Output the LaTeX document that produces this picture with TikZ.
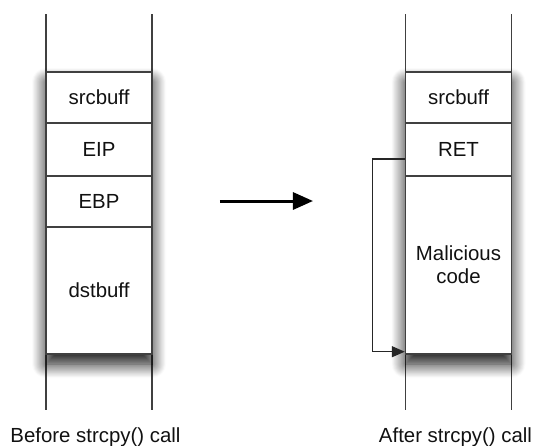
\documentclass[tikz,border=0pt]{standalone}
\usepackage{fontspec}
\setmainfont{Liberation Sans}
\usetikzlibrary{arrows.meta,shadows.blur}
\definecolor{linegray}{HTML}{404040}
\definecolor{txt}{HTML}{111111}
\begin{document}
\begin{tikzpicture}[x=0.5pt,y=-0.5pt,
  cell/.style={draw=linegray, line width=0.7pt, fill=white, minimum width=53pt, inner sep=0pt,
    font=\fontsize{10.2}{11.5}\selectfont, text=txt, align=center},
  rail/.style={draw=linegray, line width=0.8pt},
  stackshadow/.style={fill=white, blur shadow={shadow xshift=0pt, shadow yshift=-5pt,
    shadow blur radius=7pt, shadow blur steps=16, shadow opacity=95}},
  caption/.style={font=\fontsize{10.2}{11.5}\selectfont, text=txt},
  bigarrow/.style={draw=black, line width=1.5pt, -{Triangle[length=10pt,width=8.5pt]}},
  looparrow/.style={draw=black!85, line width=0.65pt, -{Triangle[length=6.5pt,width=5.5pt]}}]
\useasboundingbox (0,0) rectangle (538,446);
% rails
\coordinate (l1t) at (46,14);   \coordinate (l1b) at (46,410);
\coordinate (l2t) at (152,14);  \coordinate (l2b) at (152,410);
\coordinate (r1t) at (405.5,14); \coordinate (r1b) at (405.5,410);
\coordinate (r2t) at (511.5,14); \coordinate (r2b) at (511.5,410);
\draw[rail] (l1t) -- (l1b);
\draw[rail] (l2t) -- (l2b);
\draw[rail] (r1t) -- (r1b);
\draw[rail] (r2t) -- (r2b);
% shadows
\path[stackshadow] (46,72) rectangle (152,354);
\path[stackshadow] (405.5,72) rectangle (511.5,354);
% left stack
\node[cell, minimum height=25.5pt] (src1) at (99,97.5) {srcbuff};
\node[cell, minimum height=26.5pt] (eip) at (99,149.5) {EIP};
\node[cell, minimum height=25.5pt] (ebp) at (99,201.5) {EBP};
\node[cell, minimum height=63.5pt] (dst) at (99,290.5) {dstbuff};
% right stack
\node[cell, minimum height=25.5pt] (src2) at (458.5,97.5) {srcbuff};
\node[cell, minimum height=26.5pt] (ret) at (458.5,149.5) {RET};
\node[cell, minimum height=89pt] (mal) at (458.5,265) {Malicious\\code};
% arrows
\coordinate (ms) at (220,201);
\coordinate (me) at (313,201);
\draw[bigarrow] (ms) -- (me);
\draw[looparrow] ([yshift=-4.75pt]ret.west) -- ++(-32.5,0) |- ([yshift=1.5pt]mal.south west);
% captions
\node[caption] (cap1) at (95.5,437) {Before strcpy() call};
\node[caption] (cap2) at (455.5,437) {After strcpy() call};
\end{tikzpicture}
\end{document}
